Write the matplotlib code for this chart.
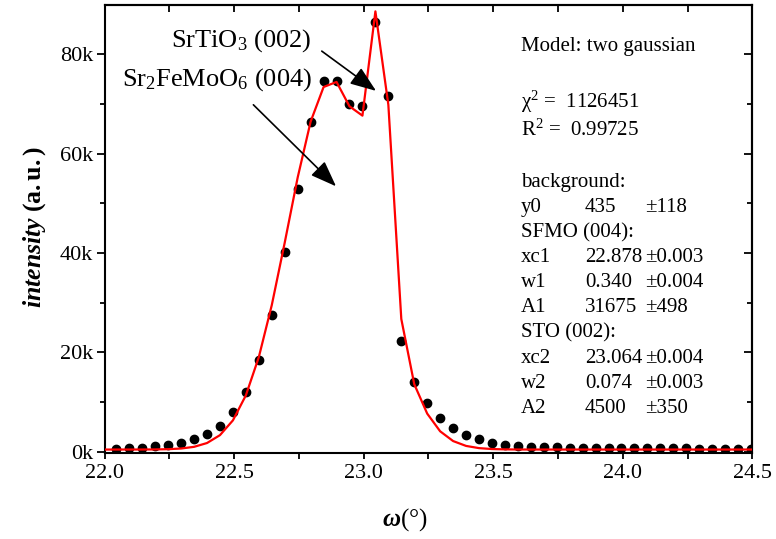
import matplotlib
matplotlib.use('Agg')
import matplotlib.pyplot as plt
from matplotlib.ticker import FixedLocator, MultipleLocator

plt.rcParams['font.family'] = ['Liberation Serif', 'DejaVu Serif']
plt.rcParams['mathtext.fontset'] = 'custom'
plt.rcParams['mathtext.rm'] = 'Liberation Serif'
plt.rcParams['mathtext.it'] = 'Liberation Serif:italic'
plt.rcParams['mathtext.bf'] = 'Liberation Serif:bold'
plt.rcParams['mathtext.bfit'] = 'Liberation Serif:italic:bold'

# ---- data ----
omega = [22.045, 22.095, 22.145, 22.195, 22.245, 22.295, 22.345, 22.395, 22.445, 22.495,
         22.545, 22.595, 22.645, 22.695, 22.745, 22.795, 22.845, 22.895, 22.945, 22.995,
         23.045, 23.095, 23.145, 23.195, 23.245, 23.295, 23.345, 23.395, 23.445, 23.495,
         23.545, 23.595, 23.645, 23.695, 23.745, 23.795, 23.845, 23.895, 23.945, 23.995,
         24.045, 24.095, 24.145, 24.195, 24.245, 24.295, 24.345, 24.395, 24.445, 24.495]
intensity = [500, 700, 800, 1100, 1350, 1800, 2500, 3600, 5200, 8000,
             12100, 18400, 27600, 40100, 52900, 66300, 74600, 74500, 70000, 69500,
             86400, 71600, 22200, 14100, 9900, 6800, 4800, 3400, 2500, 1800,
             1350, 1150, 1000, 900, 850, 800, 800, 750, 750, 700,
             700, 700, 650, 650, 650, 600, 600, 600, 600, 550]

fit_start = [22.0]
fit_end = [24.5]
fit_omega = fit_start + omega + fit_end
fit_intensity = [435,
                 435, 437, 442, 458, 508, 643, 980, 1748, 3334, 6306,
                 11346, 19035, 29493, 42075, 55176, 66413, 73379, 74400, 69490, 67617,
                 88600, 69800, 26700, 13587, 7667, 4105, 2143, 1164, 720, 537,
                 469, 445, 438, 436, 435, 435, 435, 435, 435, 435,
                 435, 435, 435, 435, 435, 435, 435, 435, 435, 435,
                 435]

xticks = [22.0, 22.5, 23.0, 23.5, 24.0, 24.5]
xtick_labels = ['22.0', '22.5', '23.0', '23.5', '24.0', '24.5']
yticks = [0, 20000, 40000, 60000, 80000]
ytick_labels = ['0k', '20k', '40k', '60k', '80k']

fit_rows = [
    ('background:', '', ''),
    ('y0', '435', '\u00b1118'),
    ('SFMO (004):', '', ''),
    ('xc1', '22.878', '\u00b10.003'),
    ('w1', '0.340', '\u00b10.004'),
    ('A1', '31675', '\u00b1498'),
    ('STO (002):', '', ''),
    ('xc2', '23.064', '\u00b10.004'),
    ('w2', '0.074', '\u00b10.003'),
    ('A2', '4500', '\u00b1350'),
]

# ---- figure ----
W, H = 776, 539
fig = plt.figure(figsize=(W / 100, H / 100), dpi=100)
ax = fig.add_axes([104.7 / W, 1 - 452.7 / H, (752.3 - 104.7) / W, 447.3 / H])

ax.plot(omega, intensity, 'o', color='black', markersize=6, zorder=2)
ax.plot(fit_omega, fit_intensity, '-', color='#ff0000', linewidth=1.6, zorder=3)

ax.set_xlim(22.0, 24.5)
ax.set_ylim(-200, 89800)

ax.xaxis.set_major_locator(FixedLocator(xticks))
ax.set_xticklabels(xtick_labels)
ax.xaxis.set_minor_locator(MultipleLocator(0.25))
ax.yaxis.set_major_locator(FixedLocator(yticks))
ax.set_yticklabels(ytick_labels)
ax.yaxis.set_minor_locator(MultipleLocator(10000))

for s in ax.spines.values():
    s.set_linewidth(1.5)

ax.tick_params(axis='both', which='both', direction='out', labelsize=16, width=1.3,
               top=False, right=False)
ax.tick_params(axis='y', which='major', length=5.5, pad=3)
ax.tick_params(axis='y', which='minor', length=3.5)
ax.tick_params(axis='x', which='major', length=4, pad=4)
ax.tick_params(axis='x', which='minor', length=4)

top = ax.secondary_xaxis('top')
top.xaxis.set_major_locator(MultipleLocator(0.25))
top.tick_params(direction='in', length=5, width=1.3, labeltop=False)
top.spines['top'].set_linewidth(1.5)
right = ax.secondary_yaxis('right')
right.yaxis.set_major_locator(FixedLocator(yticks))
right.yaxis.set_minor_locator(MultipleLocator(10000))
right.tick_params(which='major', direction='in', length=6, width=1.3, labelright=False)
right.tick_params(which='minor', direction='in', length=3.5, width=1.3)
right.spines['right'].set_linewidth(1.5)

fig.text(35 / W, 1 - 227 / H, r'$\mathbfit{intensity}\ \mathbf{(a.u.)}$',
         rotation=90, ha='center', va='center', fontsize=18.5)
fig.text(405 / W, 1 - 520 / H, r'$\mathbfit{\omega}$' + '(\u00b0)',
         ha='center', va='center', fontsize=18)

# annotations with arrows
arrow_kw = dict(arrowstyle='-|>,head_length=0.8,head_width=0.3', color='black',
                lw=1.2, mutation_scale=20, shrinkA=0, shrinkB=0)
ax.annotate('', xy=(23.0475, 72600), xytext=(22.838, 80600),
            arrowprops=arrow_kw)
ax.annotate('', xy=(22.893, 53400), xytext=(22.574, 69800),
            arrowprops=arrow_kw)
fig.text(312 / W, 1 - 46.5 / H, r'SrTiO$_3$ (002)', ha='right', va='baseline',
         fontsize=19)
fig.text(312 / W, 1 - 86 / H, r'Sr$_2$FeMoO$_6$ (004)', ha='right', va='baseline',
         fontsize=19)

# fit result text block
fs = 15
fig.text(521 / W, 1 - 46 / H, 'Model: two gaussian', ha='left', va='center', fontsize=fs)
fig.text(521 / W, 1 - 102 / H, r'$\mathrm{\chi}^{2}$ =  1126451', ha='left', va='center', fontsize=fs)
fig.text(521 / W, 1 - 130 / H, r'R$^{2}$ =  0.99725', ha='left', va='center', fontsize=fs)
y0px = 182
for i, (lab, val, err) in enumerate(fit_rows):
    yy = 1 - (y0px + 25.2 * i) / H
    fig.text(521 / W, yy, lab, ha='left', va='center', fontsize=fs)
    if val:
        fig.text(585 / W, yy, val, ha='left', va='center', fontsize=fs)
        fig.text(645 / W, yy, err, ha='left', va='center', fontsize=fs)

fig.savefig('out.png', dpi=100)
